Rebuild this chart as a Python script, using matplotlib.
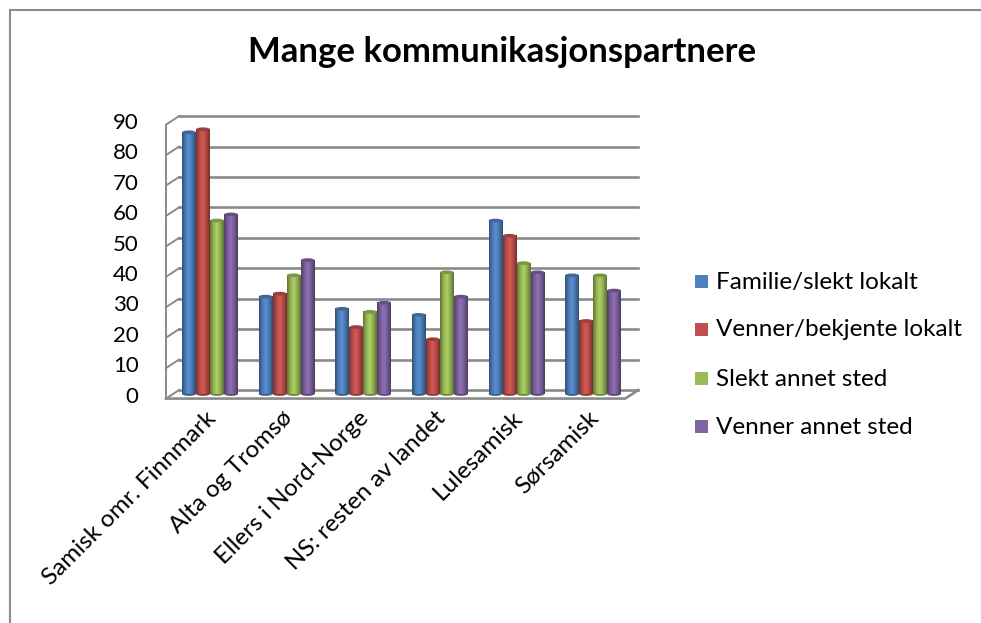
import matplotlib.pyplot as plt
import numpy as np
from matplotlib.colors import LinearSegmentedColormap, to_rgb
from matplotlib.patches import Ellipse, Rectangle
from matplotlib.lines import Line2D

# data
categories = ["Samisk omr. Finnmark", "Alta og Tromsø", "Ellers i Nord-Norge",
              "NS: resten av landet", "Lulesamisk", "Sørsamisk"]
series = ["Familie/slekt lokalt", "Venner/bekjente lokalt",
          "Slekt annet sted", "Venner annet sted"]
familie_lokalt = [86, 32, 28, 26, 57, 39]
venner_lokalt = [87, 33, 22, 18, 52, 24]
slekt_annet = [57, 39, 27, 40, 43, 39]
venner_annet = [59, 44, 30, 32, 40, 34]
values = [familie_lokalt, venner_lokalt, slekt_annet, venner_annet]
colors = ["#4F81BD", "#C0504D", "#9BBB59", "#8064A2"]
yticks = list(range(0, 100, 10))

plt.rcParams['font.family'] = ['Lato', 'DejaVu Sans']

fig = plt.figure(figsize=(9.81, 6.23), dpi=100)
ax = fig.add_axes([0.1672, 0.3578, 0.4881, 0.4592])
ax.set_xlim(-0.6, 5.65)
ax.set_ylim(-2, 92)
ax.axis('off')

grid_c = "#8A8A8A"
back, front = 1.3, -1.5          # depth offsets (value units)
xb0, xb1 = -0.405, 5.59          # back wall x-range
xf0, xf1 = -0.574, 5.42          # front edge x-range

# walls / gridlines
for v in yticks:
    ax.plot([xb0, xb1], [v + back, v + back], color=grid_c, lw=1.9, zorder=1)
    ax.plot([xf0, xb0], [v + front, v + back], color=grid_c, lw=1.4, zorder=1)
ax.plot([xf0, xf0], [front, 90 + front], color=grid_c, lw=1.4, zorder=1)
ax.plot([xf0, xf1, xb1], [front, front, back], color=grid_c, lw=1.9, zorder=1)

# cylinder-like bars
bw = 0.183
for s, (vals, c) in enumerate(zip(values, colors)):
    base = np.array(to_rgb(c))
    cmap = LinearSegmentedColormap.from_list(
        "cyl", [base * 0.62, base * 0.95, np.minimum(base * 1.12, 1), base * 0.9, base * 0.6])
    grad = np.linspace(0, 1, 64).reshape(1, -1)
    for i, v in enumerate(vals):
        xc = i + (s - 1.5) * bw
        x0 = xc - bw / 2 + 0.003
        x1 = xc + bw / 2 - 0.003
        ax.imshow(grad, cmap=cmap, extent=[x0, x1, 0, v], aspect='auto',
                  zorder=3 + s, interpolation='bilinear')
        ax.add_patch(Ellipse((xc, v), x1 - x0, 1.2, facecolor=base * 0.8,
                             edgecolor='none', zorder=3.5 + s))
        ax.add_patch(Ellipse((xc, 0), x1 - x0, 1.2, facecolor=base * 0.7,
                             edgecolor='none', zorder=2.9 + s))

# y tick labels
for v in yticks:
    ax.text(-0.93, v - 0.9, str(v), ha='right', va='center', fontsize=16,
            color='black')

# category labels
for i, cat in enumerate(categories):
    ax.text(i + 0.03, -6.8, cat, rotation=45, rotation_mode='anchor',
            ha='right', va='center', fontsize=17.5, color='black')

fig.text(0.512, 0.917, "Mange kommunikasjonspartnere", ha='center', va='center',
         fontsize=25, fontweight='bold')

# legend
leg_y = [282, 330, 379, 427]
for name, c, py in zip(series, colors, leg_y):
    fig.patches.append(Rectangle((695 / 981, 1 - (py + 6) / 623), 13 / 981, 13 / 623,
                                 transform=fig.transFigure, facecolor=c,
                                 edgecolor='none'))
    fig.text(716 / 981, 1 - py / 623, name, ha='left', va='center', fontsize=17.5)

# outer frame
fig.add_artist(Line2D([10 / 981, 1], [1 - 10 / 623] * 2, color="#8C8C8C", lw=1.5))
fig.add_artist(Line2D([10 / 981] * 2, [0, 1 - 10 / 623], color="#8C8C8C", lw=1.5))

fig.savefig("out.png", dpi=100)
